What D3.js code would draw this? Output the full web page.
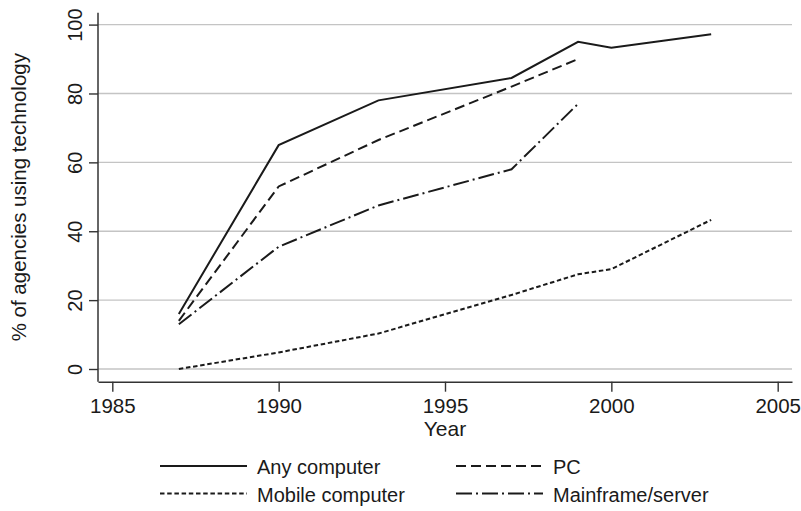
<!DOCTYPE html>
<html>
<head>
<meta charset="utf-8">
<script src="https://cdn.jsdelivr.net/npm/d3@7"></script>
<style>
  html, body { margin: 0; padding: 0; background: #fff; }
  svg { display: block; font-family: "Liberation Sans", Arial, Helvetica, sans-serif; }
</style>
</head>
<body>
<svg id="chart" width="801" height="511"></svg>
<script>
// ---- data ----
const years = [1987, 1990, 1993, 1997, 1999, 2000, 2003];
const anyComputer = [16, 65, 78, 84.5, 95, 93.3, 97.2];
const pcYears = [1987, 1990, 1993, 1997, 1999];
const pc = [14, 53, 66.5, 82, 90];
const mobileComputer = [0, 4.8, 10.3, 21.5, 27.5, 29, 43.3];
const mainframeYears = [1987, 1990, 1993, 1997, 1999];
const mainframe = [13, 35.5, 47.5, 58, 77];
const xTicks = [1985, 1990, 1995, 2000, 2005];
const yTicks = [0, 20, 40, 60, 80, 100];
const seriesNames = ["Any computer", "PC", "Mobile computer", "Mainframe/server"];

// ---- layout ----
const svg = d3.select("#chart");
const x = d3.scaleLinear().domain([1984.57, 2005.43]).range([98, 792]);
const y = d3.scaleLinear().domain([0, 100]).range([369, 24.6]);
const yBottom = 381.7, yTop = 12.7;
const ink = "#1a1a1a";

// gridlines
svg.append("g").selectAll("line").data(yTicks).join("line")
  .attr("x1", 98).attr("x2", 792)
  .attr("y1", d => y(d)).attr("y2", d => y(d))
  .attr("stroke", "#c4c4c4").attr("stroke-width", 1.4);

// x axis
const xAxis = svg.append("g").attr("transform", `translate(0,${yBottom})`)
  .call(d3.axisBottom(x).tickValues(xTicks).tickFormat(d3.format("d")).tickSize(10).tickPadding(6).tickSizeOuter(0));
xAxis.select(".domain").attr("stroke", "#333").attr("stroke-width", 1.5);
xAxis.selectAll(".tick line").attr("stroke", "#333").attr("stroke-width", 1.4);
xAxis.selectAll(".tick text").attr("font-size", 20.5).attr("fill", ink)
  .attr("font-family", "'Liberation Sans', Arial, sans-serif")
  .attr("y", null).attr("dy", null)
  .attr("transform", `translate(0,${412.5 - yBottom})`);

// y axis
const yAxis = svg.append("g").attr("transform", `translate(98,0)`)
  .call(d3.axisLeft(y).tickValues(yTicks).tickSize(9).tickSizeOuter(0));
yAxis.select(".domain").attr("d", `M0,${yTop}V${yBottom}`).attr("stroke", "#333").attr("stroke-width", 1.5);
yAxis.selectAll(".tick line").attr("stroke", "#333").attr("stroke-width", 1.4);
yAxis.selectAll(".tick text")
  .attr("font-size", 20).attr("fill", ink)
  .attr("font-family", "'Liberation Sans', Arial, sans-serif")
  .attr("text-anchor", "middle").attr("dy", null)
  .attr("x", null).attr("y", null)
  .attr("transform", "translate(-16.5,0) rotate(-90)");

// axis titles
svg.append("text").attr("x", x(1995)).attr("y", 436)
  .attr("text-anchor", "middle").attr("font-size", 21).attr("fill", ink).text("Year");
svg.append("text").attr("transform", `translate(26,${(yTop + yBottom) / 2}) rotate(-90)`)
  .attr("text-anchor", "middle").attr("font-size", 20.5).attr("fill", ink)
  .text("% of agencies using technology");

// series
const styles = {
  "Any computer": null,
  "PC": "10,5",
  "Mobile computer": "4.5,2.7",
  "Mainframe/server": "16,4,2,4"
};
const series = [
  { name: "Any computer", xs: years, vs: anyComputer },
  { name: "PC", xs: pcYears, vs: pc },
  { name: "Mobile computer", xs: years, vs: mobileComputer },
  { name: "Mainframe/server", xs: mainframeYears, vs: mainframe }
];
const line = d3.line().x(d => x(d[0])).y(d => y(d[1]));
svg.append("g").selectAll("path").data(series).join("path")
  .attr("d", s => line(s.xs.map((yr, i) => [yr, s.vs[i]])))
  .attr("fill", "none").attr("stroke", ink).attr("stroke-width", 2)
  .attr("stroke-linejoin", "miter")
  .attr("stroke-dasharray", s => styles[s.name]);

// legend
const legendPos = [
  { name: seriesNames[0], x0: 160, ly: 466 },
  { name: seriesNames[1], x0: 456, ly: 466 },
  { name: seriesNames[2], x0: 160, ly: 493.5 },
  { name: seriesNames[3], x0: 456, ly: 493.5 }
];
const lg = svg.append("g").selectAll("g").data(legendPos).join("g");
lg.append("line")
  .attr("x1", d => d.x0).attr("x2", d => d.x0 + 87)
  .attr("y1", d => d.ly).attr("y2", d => d.ly)
  .attr("stroke", ink).attr("stroke-width", 2)
  .attr("stroke-dasharray", d => styles[d.name]);
lg.append("text")
  .attr("x", d => d.x0 + 97).attr("y", d => d.ly + 8)
  .attr("font-size", 20).attr("fill", ink).text(d => d.name);
</script>
</body>
</html>
